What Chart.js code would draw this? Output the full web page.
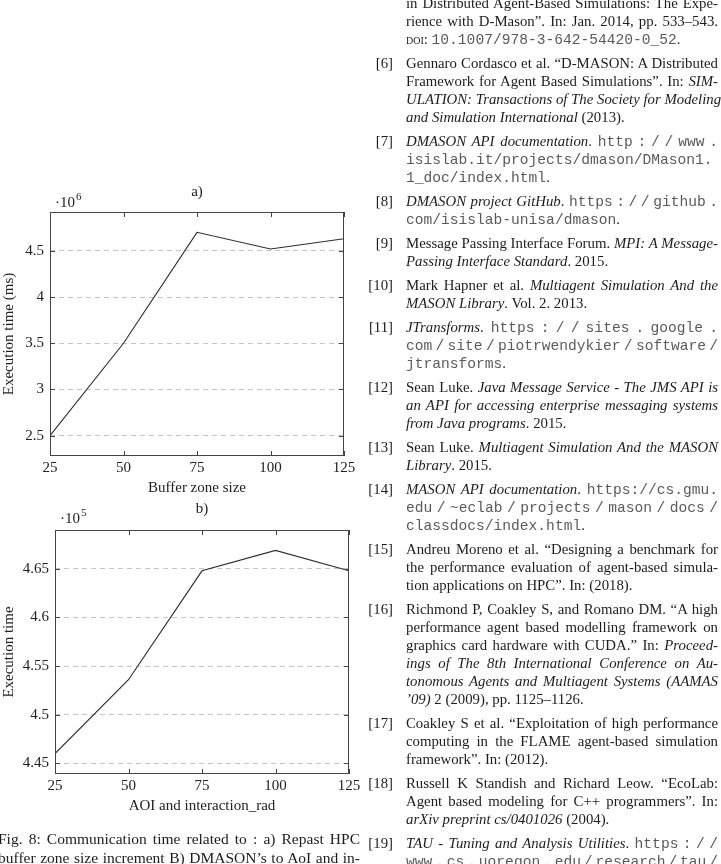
<!DOCTYPE html>
<html>
<head>
<meta charset="utf-8">
<script src="https://cdn.jsdelivr.net/npm/chart.js@4.4.1/dist/chart.umd.min.js"></script>
<style>
  html, body { margin: 0; padding: 0; background: #fff; }
  body { width: 721px; height: 864px; position: relative; overflow: hidden;
         font-family: "Liberation Serif", "Times New Roman", serif; color: #1c1c1c; }
  canvas { position: absolute; left: 0; }
  #refs { position: absolute; left: 367px; top: -6.5px; width: 351px; font-size: 14.8px; line-height: 18px; }
  .ref { position: relative; padding-left: 39px; margin-bottom: 6px; }
  .ref .num { position: absolute; left: 0; top: 0; width: 26px; text-align: right; }
  .ln { height: 18px; text-align: justify; text-align-last: justify; white-space: nowrap; }
  .ln.end { text-align-last: left; }
  tt { font-family: "Liberation Mono", "Courier New", monospace; font-size: 14.6px; color: #5a5a5a;
       line-height: 0; word-spacing: -6px; }
  .sc { font-variant: small-caps; }
  #caption { position: absolute; left: -2px; top: 828.5px; width: 362px; font-size: 15.5px; line-height: 19px; }
  #caption .ln { height: 19px; }
</style>
</head>
<body>
<canvas id="chartA" width="380" height="350" style="top:150px"></canvas>
<canvas id="chartB" width="380" height="330" style="top:495px"></canvas>

<div id="caption">
  <div class="ln">Fig. 8: Communication time related to : a) Repast HPC</div>
  <div class="ln">buffer zone size increment B) DMASON’s to AoI and in-</div>
</div>

<div id="refs">
  <div class="ref">
    <div class="ln">in Distributed Agent-Based Simulations: The Expe-</div>
    <div class="ln">rience with D-Mason”. In: Jan. 2014, pp. 533–543.</div>
    <div class="ln end"><span class="sc">doi</span>: <tt>10.1007/978-3-642-54420-0_52</tt>.</div>
  </div>
  <div class="ref"><span class="num">[6]</span>
    <div class="ln">Gennaro Cordasco et al. “D-MASON: A Distributed</div>
    <div class="ln">Framework for Agent Based Simulations”. In: <i>SIM-</i></div>
    <div class="ln"><i>ULATION: Transactions of The Society for Modeling</i></div>
    <div class="ln end"><i>and Simulation International</i> (2013).</div>
  </div>
  <div class="ref"><span class="num">[7]</span>
    <div class="ln"><i>DMASON API documentation</i>. <tt>http : / / www .</tt></div>
    <div class="ln"><tt>isislab.it/projects/dmason/DMason1.</tt></div>
    <div class="ln end"><tt>1_doc/index.html</tt>.</div>
  </div>
  <div class="ref"><span class="num">[8]</span>
    <div class="ln"><i>DMASON project GitHub</i>. <tt>https : / / github .</tt></div>
    <div class="ln end"><tt>com/isislab-unisa/dmason</tt>.</div>
  </div>
  <div class="ref"><span class="num">[9]</span>
    <div class="ln">Message Passing Interface Forum. <i>MPI: A Message-</i></div>
    <div class="ln end"><i>Passing Interface Standard</i>. 2015.</div>
  </div>
  <div class="ref"><span class="num">[10]</span>
    <div class="ln">Mark Hapner et al. <i>Multiagent Simulation And the</i></div>
    <div class="ln end"><i>MASON Library</i>. Vol. 2. 2013.</div>
  </div>
  <div class="ref"><span class="num">[11]</span>
    <div class="ln"><i>JTransforms</i>. <tt>https : / / sites . google .</tt></div>
    <div class="ln"><tt>com / site / piotrwendykier / software /</tt></div>
    <div class="ln end"><tt>jtransforms</tt>.</div>
  </div>
  <div class="ref"><span class="num">[12]</span>
    <div class="ln">Sean Luke. <i>Java Message Service - The JMS API is</i></div>
    <div class="ln"><i>an API for accessing enterprise messaging systems</i></div>
    <div class="ln end"><i>from Java programs</i>. 2015.</div>
  </div>
  <div class="ref"><span class="num">[13]</span>
    <div class="ln">Sean Luke. <i>Multiagent Simulation And the MASON</i></div>
    <div class="ln end"><i>Library</i>. 2015.</div>
  </div>
  <div class="ref"><span class="num">[14]</span>
    <div class="ln"><i>MASON API documentation</i>. <tt>https://cs.gmu.</tt></div>
    <div class="ln"><tt>edu / ~eclab / projects / mason / docs /</tt></div>
    <div class="ln end"><tt>classdocs/index.html</tt>.</div>
  </div>
  <div class="ref"><span class="num">[15]</span>
    <div class="ln">Andreu Moreno et al. “Designing a benchmark for</div>
    <div class="ln">the performance evaluation of agent-based simula-</div>
    <div class="ln end">tion applications on HPC”. In: (2018).</div>
  </div>
  <div class="ref"><span class="num">[16]</span>
    <div class="ln">Richmond P, Coakley S, and Romano DM. “A high</div>
    <div class="ln">performance agent based modelling framework on</div>
    <div class="ln">graphics card hardware with CUDA.” In: <i>Proceed-</i></div>
    <div class="ln"><i>ings of The 8th International Conference on Au-</i></div>
    <div class="ln"><i>tonomous Agents and Multiagent Systems (AAMAS</i></div>
    <div class="ln end"><i>’09)</i> 2 (2009), pp. 1125–1126.</div>
  </div>
  <div class="ref"><span class="num">[17]</span>
    <div class="ln">Coakley S et al. “Exploitation of high performance</div>
    <div class="ln">computing in the FLAME agent-based simulation</div>
    <div class="ln end">framework”. In: (2012).</div>
  </div>
  <div class="ref"><span class="num">[18]</span>
    <div class="ln">Russell K Standish and Richard Leow. “EcoLab:</div>
    <div class="ln">Agent based modeling for C++ programmers”. In:</div>
    <div class="ln end"><i>arXiv preprint cs/0401026</i> (2004).</div>
  </div>
  <div class="ref"><span class="num">[19]</span>
    <div class="ln"><i>TAU - Tuning and Analysis Utilities</i>. <tt>https : / /</tt></div>
    <div class="ln"><tt>www . cs . uoregon . edu / research / tau /</tt></div>
  </div>
</div>

<script>
// data
const sizes = [25, 50, 75, 100, 125];
const bufferTimes = [2.5, 3.5, 4.7, 4.52, 4.63];      // x 10^6 ms
const aoiTimes = [4.46, 4.536, 4.648, 4.669, 4.648];   // x 10^5
const xTicks = [25, 50, 75, 100, 125];
const yTicksA = [2.5, 3, 3.5, 4, 4.5];
const yTicksB = [4.45, 4.5, 4.55, 4.6, 4.65];

const serif = '"Liberation Serif", "Times New Roman", serif';
const ink = '#222';

// pgfplots-like box with inward ticks, plus the panel letter and the multiplier
const framePlugin = {
  id: 'frame',
  afterDraw(chart) {
    const { ctx, chartArea: a, scales } = chart;
    const opt = chart.options.plugins.frame;
    ctx.save();
    ctx.strokeStyle = '#444';
    ctx.lineWidth = 1;
    ctx.strokeRect(a.left + 0.5, a.top + 0.5, a.right - a.left - 1, a.bottom - a.top - 1);
    ctx.beginPath();
    scales.x.ticks.forEach(t => {
      const px = Math.round(scales.x.getPixelForValue(t.value)) + 0.5;
      ctx.moveTo(px, a.bottom); ctx.lineTo(px, a.bottom - 5);
      ctx.moveTo(px, a.top); ctx.lineTo(px, a.top + 5);
    });
    scales.y.ticks.forEach(t => {
      const py = Math.round(scales.y.getPixelForValue(t.value)) + 0.5;
      ctx.moveTo(a.left, py); ctx.lineTo(a.left + 5, py);
      ctx.moveTo(a.right, py); ctx.lineTo(a.right - 5, py);
    });
    ctx.stroke();

    ctx.fillStyle = ink;
    ctx.textBaseline = 'middle';
    ctx.textAlign = 'center';
    ctx.font = '15px ' + serif;
    ctx.fillText(opt.panel, (a.left + a.right) / 2, a.top - opt.panelGap);
    ctx.textAlign = 'left';
    const mx = a.left + 5, my = a.top - opt.multGap;
    ctx.fillText('·10', mx, my);
    const w = ctx.measureText('·10').width;
    ctx.font = '11px ' + serif;
    ctx.fillText(opt.power, mx + w + 1, my - 6);
    ctx.restore();
  }
};

function makeChart(id, values, yTicks, yMin, yMax, xTitle, yTitle, pad, yWidth, xHeight, xTitlePad, frameOpts) {
  return new Chart(document.getElementById(id), {
    type: 'line',
    data: {
      labels: sizes,
      datasets: [{
        data: sizes.map((s, i) => ({ x: s, y: values[i] })),
        borderColor: '#2b2b2b',
        borderWidth: 1.1,
        pointRadius: 0,
        tension: 0,
        fill: false
      }]
    },
    options: {
      responsive: false,
      animation: false,
      layout: { padding: pad },
      plugins: {
        legend: { display: false },
        tooltip: { enabled: false },
        frame: frameOpts
      },
      scales: {
        x: {
          type: 'linear',
          min: 25,
          max: 125,
          afterBuildTicks: s => { s.ticks = xTicks.map(v => ({ value: v })); },
          afterFit: s => { s.height = xHeight; },
          grid: { display: false, drawTicks: false },
          border: { display: false },
          ticks: { color: ink, padding: 3, font: { family: serif, size: 15 }, callback: v => String(v), maxRotation: 0 },
          title: { display: true, text: xTitle, color: ink, font: { family: serif, size: 15 }, padding: { top: 0, bottom: xTitlePad } }
        },
        y: {
          type: 'linear',
          min: yMin,
          max: yMax,
          afterBuildTicks: s => { s.ticks = yTicks.map(v => ({ value: v })); },
          afterFit: s => { s.width = yWidth; },
          grid: { color: '#c4c4c4', lineWidth: 1, drawTicks: false },
          border: { display: false, dash: [5, 4] },
          ticks: { color: ink, padding: 6, font: { family: serif, size: 15 }, callback: v => String(v) },
          title: { display: true, text: yTitle, color: ink, font: { family: serif, size: 15 }, padding: 0 }
        }
      }
    },
    plugins: [framePlugin]
  });
}

makeChart('chartA', bufferTimes, yTicksA, 2.28, 4.92, 'Buffer zone size', 'Execution time (ms)',
  { top: 62, right: 36, left: 0, bottom: 0 }, 50, 44, 3,
  { panel: 'a)', panelGap: 20, power: '6', multGap: 9 });

makeChart('chartB', aoiTimes, yTicksB, 4.439, 4.690, 'AOI and interaction_rad', 'Execution time',
  { top: 35, right: 31, left: 0, bottom: 0 }, 55, 51, 10,
  { panel: 'b)', panelGap: 21, power: '5', multGap: 11 });
</script>
</body>
</html>
